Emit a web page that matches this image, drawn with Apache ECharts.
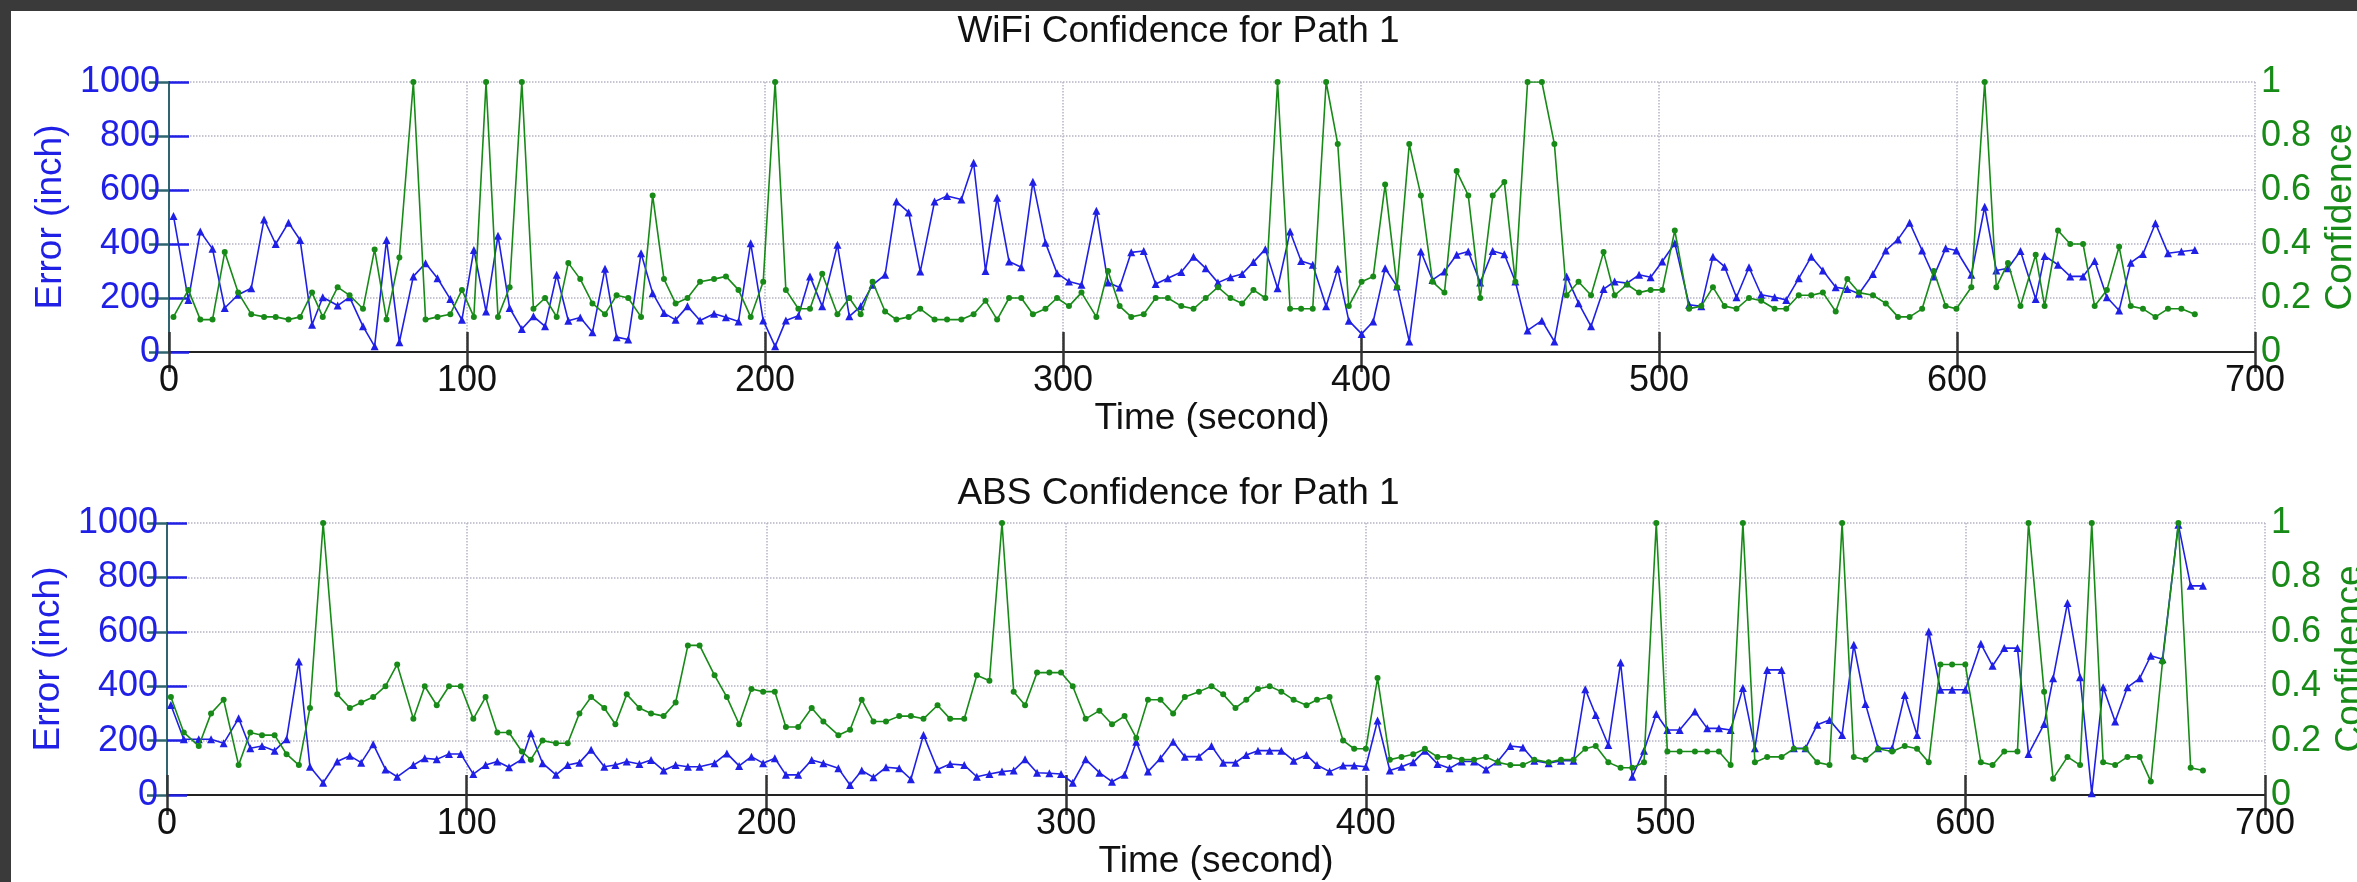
<!DOCTYPE html>
<html>
<head>
<meta charset="utf-8">
<script src="https://cdn.jsdelivr.net/npm/echarts@6/dist/echarts.min.js"></script>
<style>
  html, body { margin: 0; padding: 0; background: #3a3a3a; }
  #paper { position: absolute; left: 11px; top: 11px; width: 2346px; height: 871px; background: #fff; }
  #chart { position: absolute; left: 0; top: 0; width: 2357px; height: 882px; }
</style>
</head>
<body>
<div id="paper"></div>
<div id="chart"></div>
<script>
// time stamps (s) and values
const wifiTime = [1.5, 6.5, 10.5, 14.6, 18.7, 23.2, 27.6, 31.9, 35.8, 40.1, 44.0, 48.0, 51.6, 56.6, 60.6, 65.1, 69.0, 73.0, 77.3, 82.0, 86.1, 90.1, 94.4, 98.3, 102.3, 106.4, 110.4, 114.3, 118.4,
  122.3, 126.2, 130.1, 134.0, 138.0, 142.1, 146.3, 150.2, 154.1, 158.4, 162.3, 166.1, 170.0, 174.0, 178.2, 182.9, 186.9, 191.1, 195.2, 199.4, 203.4, 207.0, 211.2, 215.1, 219.2, 224.3, 228.3, 232.1, 236.1, 240.3,
  244.1, 248.2, 252.1, 256.9, 261.1, 265.9, 270.0, 274.0, 277.9, 281.9, 286.0, 289.9, 294.1, 298.0, 302.0, 306.2, 311.2, 315.1, 319.0, 322.9, 327.1, 331.1, 335.2, 339.7, 343.8, 347.9, 352.0, 356.2,
  360.1, 363.9, 367.9, 372.0, 376.2, 379.9, 383.8, 388.3, 392.2, 395.9, 400.2, 404.1, 408.1, 412.1, 416.2, 420.1, 424.0, 428.0, 432.1, 436.0, 440.0, 444.2, 448.1, 451.8, 455.9, 460.7, 464.9, 469.0, 473.0, 477.2,
  481.4, 485.1, 489.3, 493.3, 497.2, 501.1, 505.3, 510.1, 514.2, 518.1, 522.0, 526.0, 530.2, 534.3, 538.8, 542.7, 546.9, 551.1, 555.0, 559.3, 563.2, 567.1, 571.8, 576.1, 580.2, 584.1, 588.3, 592.2, 596.2, 599.8,
  604.8, 609.3, 613.2, 617.1, 621.3, 626.4, 629.4, 633.9, 638.0, 642.3, 646.2, 650.3, 654.4, 658.3, 662.4, 666.6, 670.8, 675.3, 679.8];

const wifiError = [504, 193, 446, 382, 163, 212, 236, 491, 400, 479, 415, 101, 203, 172, 203, 95, 21, 415, 36, 280, 329, 273, 196, 119, 378, 150, 431, 163, 85,
  132, 95, 286, 116, 128, 73, 308, 55, 46, 366, 218, 144, 119, 169, 117, 142, 129, 113, 403, 117, 21, 117, 134, 280, 169, 397, 132, 169, 249, 286,
  557, 517, 298, 557, 578, 565, 701, 300, 571, 335, 314, 631, 405, 292, 261, 249, 523, 257, 239, 369, 374, 252, 273, 296, 353, 310, 257, 277,
  289, 333, 381, 236, 446, 337, 323, 169, 308, 116, 67, 113, 310, 243, 39, 372, 267, 298, 360, 372, 257, 374, 362, 261, 80, 116, 39, 280, 181, 95,
  233, 261, 255, 286, 277, 335, 403, 175, 169, 353, 316, 203, 314, 212, 203, 193, 273, 353, 302, 240, 233, 216, 289, 376, 417, 479, 376, 280, 384, 376,
  286, 538, 302, 310, 374, 196, 356, 323, 280, 280, 337, 203, 154, 331, 363, 477, 366, 372, 378];

const wifiConf = [0.13, 0.23, 0.12, 0.12, 0.37, 0.22, 0.14, 0.13, 0.13, 0.12, 0.13, 0.22, 0.13, 0.24, 0.21, 0.16, 0.38, 0.12, 0.35, 1.0, 0.12, 0.13, 0.14, 0.23, 0.13, 1.0, 0.13, 0.24, 1.0,
  0.16, 0.20, 0.13, 0.33, 0.27, 0.18, 0.14, 0.21, 0.20, 0.13, 0.58, 0.27, 0.18, 0.20, 0.26, 0.27, 0.28, 0.23, 0.13, 0.26, 1.0, 0.23, 0.16, 0.16, 0.29, 0.14, 0.20, 0.14, 0.26, 0.15,
  0.12, 0.13, 0.16, 0.12, 0.12, 0.12, 0.14, 0.19, 0.12, 0.20, 0.20, 0.14, 0.16, 0.20, 0.17, 0.22, 0.13, 0.30, 0.17, 0.13, 0.14, 0.20, 0.20, 0.17, 0.16, 0.20, 0.24, 0.20,
  0.18, 0.23, 0.20, 1.0, 0.16, 0.16, 0.16, 1.0, 0.77, 0.17, 0.26, 0.28, 0.62, 0.24, 0.77, 0.58, 0.26, 0.22, 0.67, 0.58, 0.20, 0.58, 0.63, 0.26, 1.0, 1.0, 0.77, 0.21, 0.26, 0.21,
  0.37, 0.21, 0.25, 0.22, 0.23, 0.23, 0.45, 0.16, 0.17, 0.24, 0.17, 0.16, 0.20, 0.19, 0.16, 0.16, 0.21, 0.21, 0.22, 0.15, 0.27, 0.22, 0.21, 0.18, 0.13, 0.13, 0.16, 0.30, 0.17, 0.16,
  0.24, 1.0, 0.24, 0.33, 0.17, 0.36, 0.17, 0.45, 0.40, 0.40, 0.17, 0.23, 0.39, 0.17, 0.16, 0.13, 0.16, 0.16, 0.14];

const absTime = [1.3, 5.6, 10.6, 14.7, 18.9, 23.9, 27.8, 31.7, 35.9, 39.9, 44.0, 47.7, 52.1, 56.8, 61.0, 64.8, 68.8, 72.9, 76.8, 82.2, 86.0, 90.0, 94.1, 98.0, 102.2, 106.3, 110.2, 114.1, 118.4,
  121.4, 125.3, 129.8, 133.7, 137.6, 141.5, 145.9, 149.6, 153.4, 157.6, 161.5, 165.7, 169.7, 173.8, 177.7, 182.7, 186.8, 190.9, 195.0, 198.9, 202.8, 206.5, 210.6, 215.1, 219.0, 224.0, 227.9, 231.8, 235.7, 239.9,
  244.3, 248.2, 252.4, 257.1, 261.3, 266.0, 270.2, 274.4, 278.6, 282.5, 286.3, 290.3, 294.4, 298.3, 302.2, 306.5, 311.1, 315.3, 319.5, 323.4, 327.3, 331.5, 335.7, 339.6, 344.3, 348.5, 352.4, 356.5,
  360.1, 364.0, 367.9, 371.8, 375.9, 380.2, 383.7, 387.9, 392.4, 396.1, 400.0, 403.9, 408.0, 411.9, 415.8, 419.7, 423.9, 427.9, 432.0, 436.1, 440.1, 444.0, 448.2, 452.4, 456.2, 461.0, 465.1, 469.3, 473.2,
  476.7, 480.9, 485.0, 488.9, 492.8, 496.9, 500.6, 504.7, 509.8, 513.9, 517.8, 521.7, 525.8, 529.8, 533.9, 538.7, 542.8, 546.7, 550.6, 554.7, 558.9, 562.8, 566.7, 570.9, 575.6, 579.8, 583.9, 587.8, 591.7, 595.6,
  600.0, 605.2, 609.1, 613.0, 617.4, 621.1, 626.3, 629.3, 634.1, 638.3, 642.2, 646.0, 650.0, 654.1, 658.2, 661.9, 665.8, 671.1, 675.2, 679.3];

const absError = [331, 205, 205, 205, 190, 282, 172, 180, 163, 205, 491, 104, 45, 123, 144, 119, 187, 94, 67, 110, 135, 131, 151, 151, 77, 110, 123, 102, 131,
  227, 117, 74, 110, 119, 166, 104, 110, 123, 114, 129, 90, 110, 104, 104, 117, 153, 107, 141, 117, 135, 74, 74, 129, 117, 98, 37, 90, 65, 102,
  98, 58, 221, 94, 114, 110, 67, 77, 86, 90, 131, 82, 80, 77, 45, 131, 82, 49, 74, 196, 86, 135, 196, 141, 141, 180, 119, 119,
  147, 163, 163, 163, 126, 147, 110, 86, 108, 108, 104, 274, 90, 104, 120, 163, 114, 98, 123, 123, 94, 123, 180, 175, 126, 117, 126, 126, 389,
  294, 184, 487, 67, 163, 298, 239, 239, 307, 245, 245, 239, 393, 172, 460, 460, 172, 172, 258, 276, 221, 552, 335, 172, 172, 368, 221, 601, 387, 387,
  387, 556, 475, 540, 540, 151, 261, 429, 706, 433, 6, 396, 270, 396, 429, 512, 499, 994, 769, 769];

const absConf = [0.36, 0.23, 0.18, 0.30, 0.35, 0.11, 0.23, 0.22, 0.22, 0.15, 0.11, 0.32, 1.0, 0.37, 0.32, 0.34, 0.36, 0.40, 0.48, 0.28, 0.40, 0.33, 0.40, 0.40, 0.28, 0.36, 0.23, 0.23, 0.16,
  0.13, 0.20, 0.19, 0.19, 0.30, 0.36, 0.32, 0.26, 0.37, 0.32, 0.30, 0.29, 0.34, 0.55, 0.55, 0.44, 0.36, 0.26, 0.39, 0.38, 0.38, 0.25, 0.25, 0.32, 0.27, 0.22, 0.24, 0.35, 0.27, 0.27,
  0.29, 0.29, 0.28, 0.33, 0.28, 0.28, 0.44, 0.42, 1.0, 0.38, 0.33, 0.45, 0.45, 0.45, 0.40, 0.28, 0.31, 0.26, 0.29, 0.21, 0.35, 0.35, 0.30, 0.36, 0.38, 0.40, 0.37, 0.32,
  0.35, 0.39, 0.40, 0.38, 0.35, 0.33, 0.35, 0.36, 0.20, 0.17, 0.17, 0.43, 0.13, 0.14, 0.15, 0.17, 0.14, 0.14, 0.13, 0.13, 0.14, 0.12, 0.11, 0.11, 0.13, 0.12, 0.13, 0.13, 0.17,
  0.18, 0.12, 0.10, 0.10, 0.12, 1.0, 0.16, 0.16, 0.16, 0.16, 0.16, 0.11, 1.0, 0.12, 0.14, 0.14, 0.17, 0.17, 0.12, 0.11, 1.0, 0.14, 0.13, 0.17, 0.16, 0.18, 0.17, 0.12, 0.48, 0.48,
  0.48, 0.12, 0.11, 0.16, 0.16, 1.0, 0.38, 0.06, 0.14, 0.11, 1.0, 0.12, 0.11, 0.14, 0.14, 0.05, 0.49, 1.0, 0.10, 0.09];

const titles = ["WiFi Confidence for Path 1", "ABS Confidence for Path 1"];

const BLUE = "#1f1fe6";
const GREEN = "#178a17";
const FONT = "Liberation Sans";

const chart = echarts.init(document.getElementById("chart"), null, { renderer: "canvas" });

const pairs = (t, v) => t.map((x, i) => [x, v[i]]);

function xAxes(gridIndex, nameGap) {
    const base = {
        gridIndex,
        type: "value",
        min: 0,
        max: 700,
        interval: 100,
        axisLine: { lineStyle: { color: "#222", width: 2 } },
        axisTick: { inside: true, length: 20, lineStyle: { color: "#333", width: 2.5 } },
    };
    return [
        {
            ...base,
            position: "bottom",
            name: "Time (second)",
            nameLocation: "middle",
            nameGap,
            nameTextStyle: { fontFamily: FONT, fontSize: 37, color: "#111" },
            axisLabel: { fontFamily: FONT, fontSize: 36, color: "#111", margin: 11 },
            splitLine: { show: true, lineStyle: { color: "#b4b4c4", type: "dotted", width: 1.5 } },
        },
        { ...base, position: "top", axisLabel: { show: false }, splitLine: { show: false } },
    ];
}

function yAxes(gridIndex, rightGap) {
    return [
        {
            gridIndex,
            type: "value",
            position: "left",
            min: 0,
            max: 1000,
            interval: 200,
            name: "Error (inch)",
            nameLocation: "middle",
            nameRotate: 90,
            nameGap: 100,
            nameTextStyle: { fontFamily: FONT, fontSize: 37, color: BLUE },
            axisLine: { show: true, lineStyle: { color: BLUE, width: 2 } },
            axisTick: { show: true, inside: true, length: 20, lineStyle: { color: BLUE, width: 2.5 } },
            axisLabel: { fontFamily: FONT, fontSize: 36, color: BLUE, margin: 9, formatter: (v) => String(v) },
            splitLine: { show: true, lineStyle: { color: "#b4b4c4", type: "dotted", width: 1.5 } },
        },
        {
            gridIndex,
            type: "value",
            position: "right",
            min: 0,
            max: 1,
            interval: 0.2,
            name: "Confidence",
            nameLocation: "middle",
            nameRotate: 90,
            nameGap: rightGap,
            nameTextStyle: { fontFamily: FONT, fontSize: 37, color: GREEN },
            axisLine: { show: true, lineStyle: { color: "#2f6470", width: 2 } },
            axisTick: { show: true, inside: true, length: 20, lineStyle: { color: "#2f6470", width: 2.5 } },
            axisLabel: { fontFamily: FONT, fontSize: 36, color: GREEN, margin: 6 },
            splitLine: { show: false },
        },
    ];
}

function errSeries(xi, yi, t, v) {
    return {
        type: "line",
        xAxisIndex: xi,
        yAxisIndex: yi,
        data: pairs(t, v),
        symbol: "triangle",
        symbolSize: 8,
        showSymbol: true,
        lineStyle: { color: BLUE, width: 1.6 },
        itemStyle: { color: BLUE },
        z: 3,
    };
}

function confSeries(xi, yi, t, v) {
    return {
        type: "line",
        xAxisIndex: xi,
        yAxisIndex: yi,
        data: pairs(t, v),
        symbol: "circle",
        symbolSize: 6,
        showSymbol: true,
        lineStyle: { color: GREEN, width: 1.6 },
        itemStyle: { color: GREEN },
        z: 4,
    };
}

const option = {
    animation: false,
    backgroundColor: "transparent",
    title: [
        { text: titles[0], left: "center", top: 8, textStyle: { fontFamily: FONT, fontSize: 37, fontWeight: "normal", color: "#111" } },
        { text: titles[1], left: "center", top: 470, textStyle: { fontFamily: FONT, fontSize: 37, fontWeight: "normal", color: "#111" } },
    ],
    grid: [
        { left: 169, right: 102, top: 82, height: 270, containLabel: false, outerBoundsMode: "none" },
        { left: 167, right: 92, top: 523, height: 272, containLabel: false, outerBoundsMode: "none" },
    ],
    xAxis: [...xAxes(0, 31), ...xAxes(1, 44)],
    yAxis: [...yAxes(0, 66), ...yAxes(1, 62)],
    series: [
        errSeries(0, 0, wifiTime, wifiError),
        confSeries(0, 1, wifiTime, wifiConf),
        errSeries(2, 2, absTime, absError),
        confSeries(2, 3, absTime, absConf),
    ],
};

chart.setOption(option);
</script>
</body>
</html>
